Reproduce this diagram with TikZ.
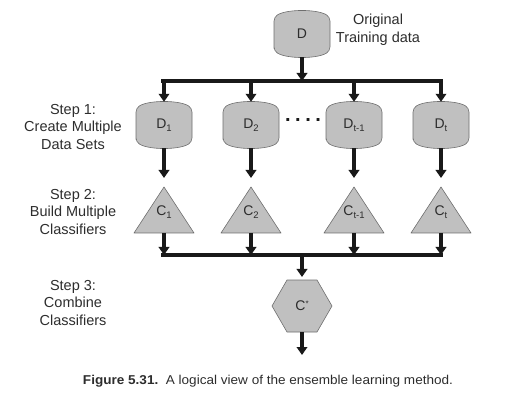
\documentclass[tikz,border=0pt]{standalone}
\usepackage{fontspec}
\setmainfont{Liberation Sans}
\usetikzlibrary{arrows.meta}
\definecolor{shapegray}{RGB}{192,192,192}
\definecolor{edgegray}{RGB}{110,110,110}
\definecolor{inkc}{RGB}{25,25,25}
\definecolor{txtc}{RGB}{45,45,45}
\newcommand{\lowsub}[1]{\raisebox{-3pt}{\fontsize{9.5}{10}\selectfont #1}}
\begin{document}
\begin{tikzpicture}[x=1pt,y=1pt,
  font=\fontsize{14.5}{17.5}\selectfont,
  conn/.style={line width=3.3pt, draw=inkc, -{Triangle[width=10.5pt,length=8pt]}},
  bus/.style={line width=3.5pt, draw=inkc, line cap=rect},
  shapefill/.style={fill=shapegray, draw=edgegray, line width=0.6pt},
  dnode/.style={minimum width=56pt, minimum height=46pt, inner sep=0pt, font=\fontsize{14}{16}\selectfont, text=txtc},
  cnode/.style={inner sep=0pt, font=\fontsize{14}{16}\selectfont, text=txtc},
  steplabel/.style={align=center, text=txtc, font=\fontsize{14.5}{17.5}\selectfont}]
\useasboundingbox (0,0) rectangle (516,407);
% cylinder shapes
\foreach \cx/\cy in {302/373,164/282,251/282,354/282,441/282}{
  \draw[shapefill, rounded corners=4pt] (\cx-28,\cy-17) -- (\cx-28,\cy+17)
     .. controls (\cx-15,\cy+25) and (\cx+15,\cy+25) .. (\cx+28,\cy+17)
     -- (\cx+28,\cy-17)
     .. controls (\cx+15,\cy-25) and (\cx-15,\cy-25) .. (\cx-28,\cy-17) -- cycle;
}
% triangles
\foreach \cx in {164,251,354,441}{
  \draw[shapefill, line join=round] (\cx-30,174) -- (\cx,220) -- (\cx+30,174) -- cycle;
}
% hexagon
\draw[shapefill] (272,101) -- (287,127) -- (317,127) -- (332,101) -- (317,75) -- (287,75) -- cycle;

% nodes
\node[dnode] (d0) at (302,373) {D};
\node[dnode] (d1) at (164,282) {D\lowsub{1}};
\node[dnode] (d2) at (251,282) {D\lowsub{2}};
\node[dnode] (d3) at (354,282) {D\lowsub{t-1}};
\node[dnode] (d4) at (441,282) {D\lowsub{t}};

\node[cnode] (c1) at (164,195) {C\lowsub{1}};
\node[cnode] (c2) at (251,195) {C\lowsub{2}};
\node[cnode] (c3) at (354,195) {C\lowsub{t-1}};
\node[cnode] (c4) at (441,195) {C\lowsub{t}};
\foreach \i/\cx in {1/164,2/251,3/354,4/441}{
  \coordinate (c\i t) at (\cx,220);
  \coordinate (c\i b) at (\cx,174);
}
\node[cnode] (cs) at (302,101) {C\raisebox{4pt}{\fontsize{8}{9}\selectfont *}};
\coordinate (cst) at (302,127);
\coordinate (csb) at (302,75);
\coordinate (out) at (302,52);

\node[text=inkc, font=\fontsize{20}{20}\selectfont\bfseries, inner sep=0pt] (dots) at (303,287) {.\hspace{4.5pt}.\hspace{4.5pt}.\hspace{4.5pt}.};

% labels
\node[steplabel] (orig) at (378,377) {Original\\Training data};
\node[steplabel] (s1) at (73,280) {Step 1:\\Create Multiple\\Data Sets};
\node[steplabel] (s2) at (73,195) {Step 2:\\Build Multiple\\Classifiers};
\node[steplabel] (s3) at (73,104) {Step 3:\\Combine\\Classifiers};

\node[text=txtc, inner sep=0pt] (cap) at (268,26) {\resizebox{370pt}{9.3pt}{\textbf{Figure 5.31.}\ \ A logical view of the ensemble learning method.}};

% buses
\coordinate (b1) at (302,326);
\coordinate (b1l) at (163,326);
\coordinate (b1r) at (441,326);
\coordinate (b2) at (302,152);
\coordinate (b2l) at (163,152);
\coordinate (b2r) at (441,152);
\draw[bus] (b1l) -- (b1r);
\draw[bus] (b2l) -- (b2r);

% connectors
\draw[conn] (d0.south) -- (b1);
\foreach \d in {d1,d2,d3,d4}{
  \draw[conn] (\d.north |- b1) -- (\d.north);
}
\foreach \i in {1,2,3,4}{
  \draw[conn, shorten >=9pt] (d\i.south) -- (c\i t);
  \draw[conn] (c\i b) -- (c\i b |- b2);
}
\draw[conn, shorten >=3pt] (b2) -- (cst);
\draw[conn] (csb) -- (out);
\end{tikzpicture}
\end{document}
